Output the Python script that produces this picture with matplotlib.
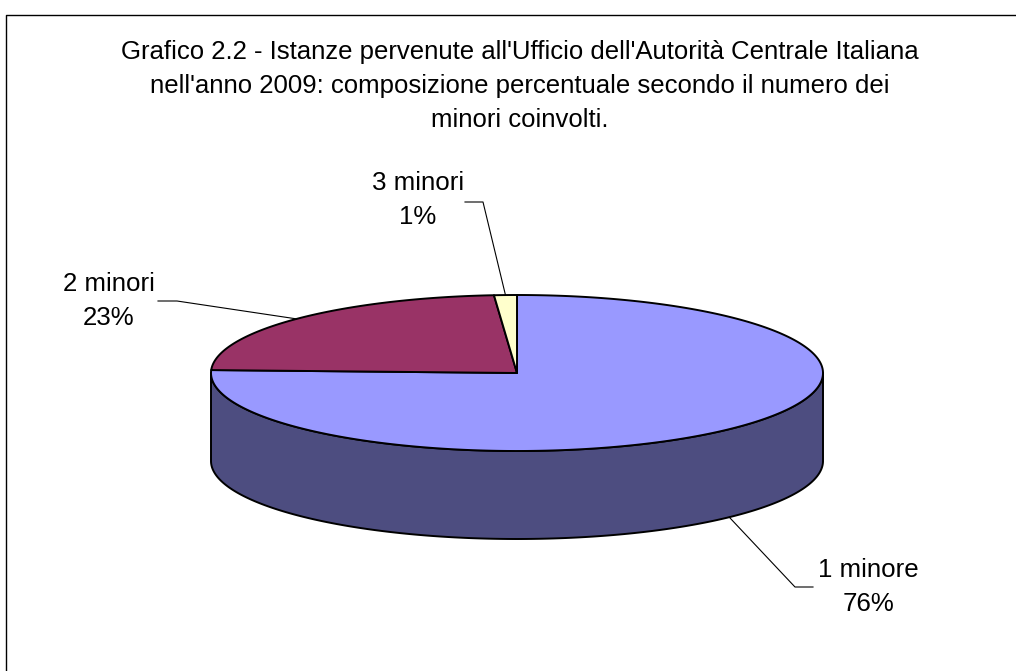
import numpy as np
import matplotlib
matplotlib.use("Agg")
import matplotlib.pyplot as plt
from matplotlib.patches import Polygon
from matplotlib.lines import Line2D

# ---- data ----
categories = ["1 minore", "2 minori", "3 minori"]
values = [75.6, 23.2, 1.2]
colors = ["#9999FF", "#993366", "#FFFFCC"]
title = ("Grafico 2.2 - Istanze pervenute all'Ufficio dell'Autorità Centrale Italiana\n"
         "nell'anno 2009: composizione percentuale secondo il numero dei\n"
         "minori coinvolti.")

plt.rcParams['font.family'] = ['Liberation Sans', 'DejaVu Sans']

W, H = 1016, 671
fig = plt.figure(figsize=(W / 100, H / 100), dpi=100)
ax = fig.add_axes([0, 0, 1, 1])
ax.set_xlim(0, W)
ax.set_ylim(H, 0)
ax.axis("off")

# frame (left + top edges visible)
ax.add_line(Line2D([6, 6, W], [H, 15, 15], color="black", lw=1.0))

# pie geometry (pixel layout)
cx, cy, a, b, depth = 517, 373, 306, 78, 88
lw = 1.4


def pt(theta, dy=0.0):
    t = np.radians(theta)
    return cx + a * np.cos(t), cy - b * np.sin(t) + dy


def arc(t1, t2, dy=0.0, n=None):
    if n is None:
        n = max(int(abs(t2 - t1) * 2), 2)
    ts = np.linspace(t1, t2, n)
    xs, ys = pt(ts, dy)
    return np.column_stack([xs, ys])


def darker(c, f=0.5):
    r, g, bl = matplotlib.colors.to_rgb(c)
    return (r * f, g * f, bl * f)


total = sum(values)
start = 90.0
bounds = []
cum = 0.0
for v in values:
    t1 = start - cum / total * 360
    cum += v
    t2 = start - cum / total * 360
    bounds.append((t1, t2))

# side walls (front half only)
front = [(-540, -360), (-180, 0), (180, 360)]
for (t1, t2), c in zip(bounds, colors):
    lo, hi = t2, t1
    for flo, fhi in front:
        s, e = max(lo, flo), min(hi, fhi)
        if e > s:
            top = arc(s, e)
            bot = arc(e, s, dy=depth)
            ax.add_patch(Polygon(np.vstack([top, bot]), closed=True,
                                 facecolor=darker(c), edgecolor="black",
                                 lw=lw, joinstyle="round"))

# top faces
for (t1, t2), c in zip(bounds, colors):
    pts = np.vstack([[cx, cy], arc(t1, t2)])
    ax.add_patch(Polygon(pts, closed=True, facecolor=c, edgecolor="black",
                         lw=lw, joinstyle="round"))

# labels with leader lines
label_pos = [(868, 587), (109, 301), (418, 200)]       # text centres
elbows = [[(795, 587), (813, 587)],
          [(177, 301), (158, 301)],
          [(483, 202), (465, 202)]]
anchor_dy = [depth, 0, 0]
for i, (cat, v) in enumerate(zip(categories, values)):
    t1, t2 = bounds[i]
    mid = (t1 + t2) / 2
    axp = pt(mid, anchor_dy[i])
    xs = [axp[0]] + [p[0] for p in elbows[i]]
    ys = [axp[1]] + [p[1] for p in elbows[i]]
    ax.add_line(Line2D(xs, ys, color="black", lw=0.8))
    ax.text(label_pos[i][0], label_pos[i][1],
            f"{cat}\n{round(v / total * 100):.0f}%",
            ha="center", va="center", multialignment="center",
            fontsize=18.6, linespacing=1.5, color="black")

ax.text(520, 86, title, ha="center", va="center", multialignment="center",
        fontsize=18.5, linespacing=1.52, color="black")

fig.savefig("out.png", dpi=100)
